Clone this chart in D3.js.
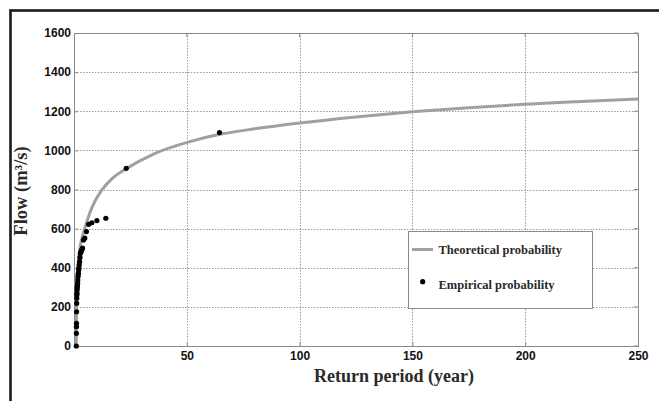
<!DOCTYPE html>
<html>
<head>
<meta charset="utf-8">
<script src="https://cdn.jsdelivr.net/npm/d3@7"></script>
<style>
  html, body { margin: 0; padding: 0; background: #fff; }
  svg { display: block; }
</style>
</head>
<body>
<svg id="chart" width="659" height="401"></svg>
<script>
// ---- data ----
const xTicks = [50, 100, 150, 200, 250];
const yTicks = [0, 200, 400, 600, 800, 1000, 1200, 1400, 1600];

// theoretical curve: return period (years) and flow (m3/s)
const curveT = [1.0, 1.02, 1.08, 1.2, 1.45, 1.9, 2.6, 3.4, 5, 7, 9.5, 12.3, 17, 23.4, 35, 51.4, 64.7, 80, 100, 125, 150, 175, 200, 225, 250];
const curveQ = [0, 60, 150, 250, 350, 430, 500, 545, 610, 680, 745, 797, 857, 908, 980, 1045, 1082, 1110, 1140, 1171, 1197, 1218, 1236, 1250, 1263];

// empirical points
const empT = [1.016, 1.045, 1.076, 1.109, 1.145, 1.182, 1.222, 1.265, 1.311, 1.36, 1.413, 1.471, 1.533, 1.601, 1.675, 1.757, 1.847, 1.946, 2.057, 2.181, 2.321, 2.481, 2.664, 2.876, 3.125, 3.42, 3.778, 4.22, 4.778, 5.506, 6.496, 7.921, 10.15, 14.11, 23.15, 64.5];
const empQ = [0, 65, 99, 116, 175, 218, 244, 261, 270, 286, 297, 303, 312, 321, 337, 354, 363, 372, 389, 397, 414, 431, 453, 474, 482, 491, 500, 542, 551, 585, 622, 630, 641, 653, 908, 1091];

const legendLabels = ["Theoretical probability", "Empirical probability"];
const xTitle = "Return period (year)";
const yTitle = "Flow (m³/s)";

// ---- drawing ----
const svg = d3.select("#chart");
const x = d3.scaleLinear().domain([0, 250]).range([74, 638]);
const y = d3.scaleLinear().domain([0, 1600]).range([346, 33]);

// outer frame
svg.append("rect")
  .attr("x", 10.5).attr("y", 10.5).attr("width", 800).attr("height", 600)
  .attr("fill", "none").attr("stroke", "#1a1a1a").attr("stroke-width", 2.6);

// grid lines
const grid = svg.append("g").attr("stroke", "#9a9a9a").attr("stroke-width", 1)
  .attr("stroke-dasharray", "1.5,1.5");
grid.selectAll(".gx").data(xTicks.filter(d => d < 250)).join("line")
  .attr("x1", d => Math.round(x(d)) + 0.5).attr("x2", d => Math.round(x(d)) + 0.5)
  .attr("y1", y(1600)).attr("y2", y(0));
grid.selectAll(".gy").data(yTicks.filter(d => d > 0 && d < 1600)).join("line")
  .attr("y1", d => Math.round(y(d)) + 0.5).attr("y2", d => Math.round(y(d)) + 0.5)
  .attr("x1", x(0)).attr("x2", x(250));

// plot box
svg.append("rect")
  .attr("x", x(0) + 0.5).attr("y", y(1600) + 0.5)
  .attr("width", x(250) - x(0)).attr("height", y(0) - y(1600))
  .attr("fill", "none").attr("stroke", "#8a8a8a").attr("stroke-width", 1);

// axes
const fmt = d3.format("d");
const yAxis = svg.append("g").attr("transform", `translate(${x(0)},0)`)
  .call(d3.axisLeft(y).tickValues(yTicks).tickFormat(fmt).tickSize(-4).tickPadding(3));
const xAxis = svg.append("g").attr("transform", `translate(0,${y(0)})`)
  .call(d3.axisBottom(x).tickValues(xTicks).tickFormat(fmt).tickSize(-4).tickPadding(5));
[yAxis, xAxis].forEach(a => {
  a.select(".domain").remove();
  a.selectAll(".tick line").attr("stroke", "#8a8a8a");
  a.selectAll("text").attr("font-family", "'Liberation Sans', Arial, sans-serif")
    .attr("font-size", 12).attr("font-weight", "bold").attr("fill", "#111");
});
// right and top inward ticks
svg.append("g").selectAll("line").data(yTicks).join("line")
  .attr("x1", x(250)).attr("x2", x(250) - 4)
  .attr("y1", d => y(d)).attr("y2", d => y(d)).attr("stroke", "#8a8a8a");
svg.append("g").selectAll("line").data(xTicks).join("line")
  .attr("y1", y(1600)).attr("y2", y(1600) + 4)
  .attr("x1", d => x(d)).attr("x2", d => x(d)).attr("stroke", "#8a8a8a");

// theoretical curve
const curveData = curveT.map((t, i) => [t, curveQ[i]]);
svg.append("path")
  .datum(curveData)
  .attr("fill", "none").attr("stroke", "#a0a0a0").attr("stroke-width", 3)
  .attr("d", d3.line().x(d => x(d[0])).y(d => y(d[1])).curve(d3.curveMonotoneX));

// empirical points
const empData = empT.map((t, i) => [t, empQ[i]]);
svg.append("g").selectAll("circle").data(empData).join("circle")
  .attr("cx", d => x(d[0])).attr("cy", d => y(d[1])).attr("r", 2.6).attr("fill", "#000");

// axis titles
const serif = "'Liberation Serif', 'Times New Roman', serif";
svg.append("text").text(xTitle)
  .attr("x", 394).attr("y", 381.5).attr("text-anchor", "middle")
  .attr("font-family", serif).attr("font-size", 18).attr("font-weight", "bold").attr("fill", "#2a2a2a");
svg.append("text").text(yTitle)
  .attr("transform", "translate(27,191) rotate(-90)").attr("text-anchor", "middle")
  .attr("font-family", serif).attr("font-size", 18.5).attr("font-weight", "bold").attr("fill", "#2a2a2a");

// legend
const lg = svg.append("g");
lg.append("rect").attr("x", 408.5).attr("y", 231.5).attr("width", 184).attr("height", 77)
  .attr("fill", "#fff").attr("stroke", "#8a8a8a").attr("stroke-width", 1);
lg.append("line").attr("x1", 412).attr("x2", 433).attr("y1", 249.5).attr("y2", 249.5)
  .attr("stroke", "#a0a0a0").attr("stroke-width", 3);
lg.append("circle").attr("cx", 422.7).attr("cy", 281.7).attr("r", 2.6).attr("fill", "#000");
lg.selectAll("text").data(legendLabels).join("text")
  .text(d => d)
  .attr("x", 438.5).attr("y", (d, i) => i === 0 ? 254.3 : 289.3)
  .attr("font-family", serif).attr("font-size", 12.5).attr("font-weight", "bold").attr("fill", "#2a2a2a");
</script>
</body>
</html>
